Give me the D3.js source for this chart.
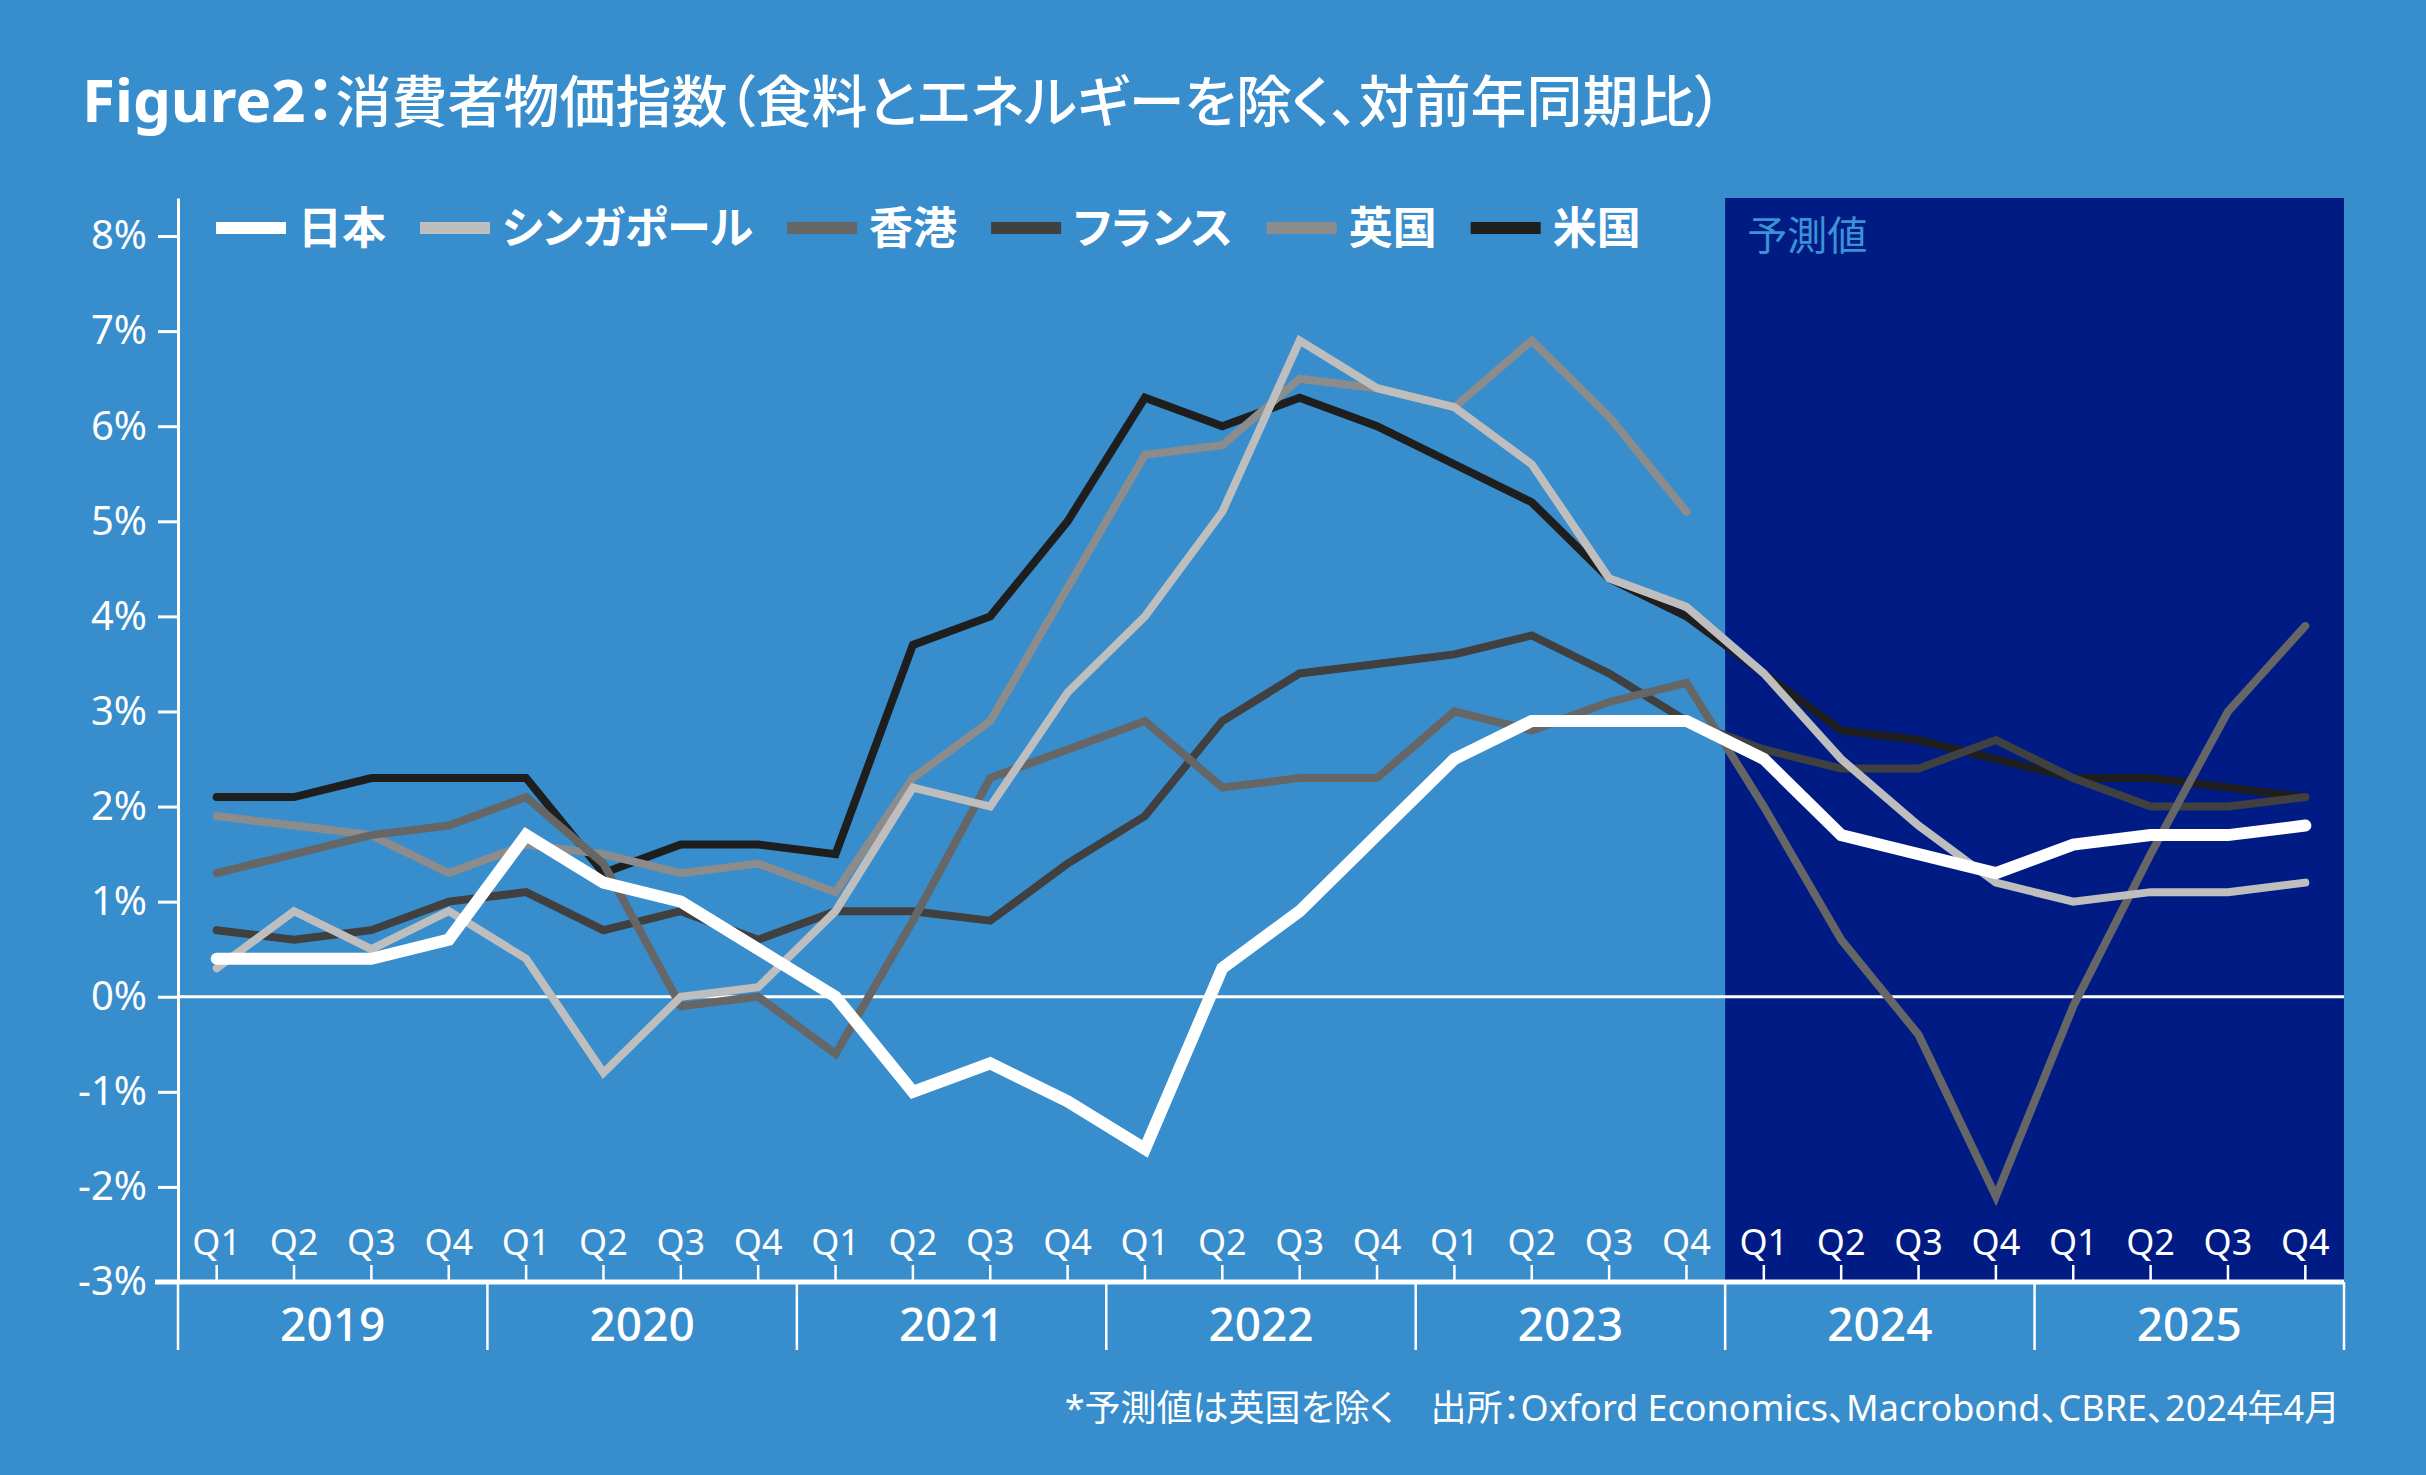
<!DOCTYPE html>
<html lang="ja">
<head>
<meta charset="utf-8">
<script src="https://cdn.jsdelivr.net/npm/d3@7"></script>
<style>
  body { margin: 0; background: #388dcd; }
  svg { display: block; font-family: "Noto Sans", "Noto Sans CJK JP", sans-serif; font-feature-settings: "palt"; }
  text { fill: #fff; }
</style>
</head>
<body>
<div id="chart"></div>
<script>
// Data
const years = ["2019", "2020", "2021", "2022", "2023", "2024", "2025"];
const quarterLabels = ["Q1", "Q2", "Q3", "Q4"];
const forecastStart = "2024";
const yTicks = [-3, -2, -1, 0, 1, 2, 3, 4, 5, 6, 7, 8];

const seriesNames = ["日本", "シンガポール", "香港", "フランス", "英国", "米国"];
const seriesColors = ["#ffffff", "#bebebe", "#666666", "#404040", "#8c8c8c", "#1e1e1e"];

const japan =     [0.4, 0.4, 0.4, 0.6,  1.7, 1.2, 1.0, 0.5,  0.0, -1.0, -0.7, -1.1,  -1.6, 0.3, 0.9, 1.7,  2.5, 2.9, 2.9, 2.9,  2.5, 1.7, 1.5, 1.3,  1.6, 1.7, 1.7, 1.8];
const singapore = [0.3, 0.9, 0.5, 0.9,  0.4, -0.8, 0.0, 0.1,  0.9, 2.2, 2.0, 3.2,  4.0, 5.1, 6.9, 6.4,  6.2, 5.6, 4.4, 4.1,  3.4, 2.5, 1.8, 1.2,  1.0, 1.1, 1.1, 1.2];
const hongkong =  [1.3, 1.5, 1.7, 1.8,  2.1, 1.4, -0.1, 0.0,  -0.6, 0.8, 2.3, 2.6,  2.9, 2.2, 2.3, 2.3,  3.0, 2.8, 3.1, 3.3,  2.0, 0.6, -0.4, -2.1,  -0.1, 1.5, 3.0, 3.9];
const france =    [0.7, 0.6, 0.7, 1.0,  1.1, 0.7, 0.9, 0.6,  0.9, 0.9, 0.8, 1.4,  1.9, 2.9, 3.4, 3.5,  3.6, 3.8, 3.4, 2.9,  2.6, 2.4, 2.4, 2.7,  2.3, 2.0, 2.0, 2.1];
const uk =        [1.9, 1.8, 1.7, 1.3,  1.6, 1.5, 1.3, 1.4,  1.1, 2.3, 2.9, 4.3,  5.7, 5.8, 6.5, 6.4,  6.2, 6.9, 6.1, 5.1];
const us =        [2.1, 2.1, 2.3, 2.3,  2.3, 1.3, 1.6, 1.6,  1.5, 3.7, 4.0, 5.0,  6.3, 6.0, 6.3, 6.0,  5.6, 5.2, 4.4, 4.0,  3.4, 2.8, 2.7, 2.5,  2.3, 2.3, 2.2, 2.1];

const titleLead = "Figure2：";
const titleText = "消費者物価指数（食料とエネルギーを除く、対前年同期比）";
const forecastLabel = "予測値";
const footnote = "*予測値は英国を除く　出所：Oxford Economics、Macrobond、CBRE、2024年4月";

class CpiChart {
    constructor(_config = {}) {
        this.config = {
            parentElement: _config.parentElement,
            containerWidth: 2426,
            containerHeight: 1475,
            margin: { top: 198, right: 82, bottom: 193, left: 178 },
            background: "#388dcd",
            forecastFill: "#001c84",
            forecastText: "#3c92d6"
        };
        this.periods = years.flatMap(yr => quarterLabels.map(q => yr + q));
        this.series = [japan, singapore, hongkong, france, uk, us].map((vals, i) => ({
            name: seriesNames[i],
            color: seriesColors[i],
            width: i === 0 ? 12 : 8,
            values: this.periods.map((p, j) => ({ period: p, value: vals[j] === undefined ? null : vals[j] }))
        }));
        this.initVis();
    }

    initVis() {
        let vis = this;
        let { parentElement, containerWidth, containerHeight, margin } = vis.config;
        let plotBottom = containerHeight - margin.bottom;
        let plotRight = containerWidth - margin.right;

        vis.svg = d3.select(parentElement)
            .append("svg")
            .attr("width", containerWidth)
            .attr("height", containerHeight);

        vis.svg.append("rect")
            .attr("width", containerWidth)
            .attr("height", containerHeight)
            .attr("fill", vis.config.background);

        // Scales

        vis.x = d3.scaleBand()
            .domain(vis.periods)
            .range([margin.left, plotRight]);

        vis.xYear = d3.scaleBand()
            .domain(years)
            .range([margin.left, plotRight]);

        vis.y = d3.scaleLinear()
            .domain([-3, 8.4])
            .range([plotBottom, margin.top]);

        // Forecast band

        let fx = vis.xYear(forecastStart);
        vis.svg.append("rect")
            .attr("x", fx)
            .attr("y", margin.top)
            .attr("width", plotRight - fx)
            .attr("height", plotBottom - margin.top)
            .attr("fill", vis.config.forecastFill);

        vis.svg.append("text")
            .attr("x", fx + 22)
            .attr("y", margin.top + 52)
            .attr("font-size", 40)
            .style("fill", vis.config.forecastText)
            .text(forecastLabel);

        // Title

        let title = vis.svg.append("text")
            .attr("x", 82)
            .attr("y", 122);
        title.append("tspan")
            .attr("font-size", 60)
            .attr("font-weight", 700)
            .text(titleLead);
        title.append("tspan")
            .attr("font-size", 56)
            .attr("font-weight", 500)
            .text(titleText);

        // Zero line

        vis.svg.append("line")
            .attr("x1", margin.left)
            .attr("x2", plotRight)
            .attr("y1", vis.y(0))
            .attr("y2", vis.y(0))
            .attr("stroke", "#fff")
            .attr("stroke-width", 3);

        // Axes

        vis.yAxis = vis.svg.append("g")
            .attr("class", "y-axis")
            .attr("transform", `translate(${margin.left},0)`);

        vis.qAxis = vis.svg.append("g")
            .attr("class", "q-axis")
            .attr("transform", `translate(0,${plotBottom})`);

        vis.yearAxis = vis.svg.append("g")
            .attr("class", "year-axis")
            .attr("transform", `translate(0,${plotBottom})`);

        vis.lineG = vis.svg.append("g").attr("class", "lines");
        vis.legendG = vis.svg.append("g")
            .attr("class", "legend")
            .attr("transform", `translate(216,228)`);

        vis.svg.append("text")
            .attr("x", plotRight - 4)
            .attr("y", 1421)
            .attr("text-anchor", "end")
            .attr("font-size", 36)
            .text(footnote);

        vis.renderVis();
    }

    renderVis() {
        let vis = this;
        let { margin } = vis.config;
        let bw = vis.x.bandwidth();

        vis.yAxis.call(d3.axisLeft(vis.y)
            .tickValues(yTicks)
            .tickFormat(d => d + "%")
            .tickSize(20)
            .tickSizeOuter(0)
            .tickPadding(11))
            .attr("font-family", null)
            .attr("font-size", 40);
        vis.yAxis.selectAll("path, line").attr("stroke", "#fff").attr("stroke-width", 3);
        vis.yAxis.selectAll("text").attr("fill", "#fff");

        vis.qAxis.call(d3.axisTop(vis.x)
            .tickFormat(d => d.slice(4))
            .tickSize(17)
            .tickSizeOuter(0)
            .tickPadding(10))
            .attr("font-family", null)
            .attr("font-size", 36);
        vis.qAxis.select(".domain")
            .attr("d", `M${margin.left - 23},0H${vis.x.range()[1]}`)
            .attr("stroke", "#fff")
            .attr("stroke-width", 5);
        vis.qAxis.selectAll(".tick line").attr("stroke", "#fff").attr("stroke-width", 2.5);
        vis.qAxis.selectAll("text").attr("fill", "#fff");

        vis.yearAxis.call(d3.axisBottom(vis.xYear).tickSize(0).tickPadding(26))
            .attr("font-family", null)
            .attr("font-size", 46)
            .attr("font-weight", 500);
        vis.yearAxis.select(".domain").remove();
        vis.yearAxis.selectAll("text").attr("fill", "#fff");

        let bounds = years.map(yr => vis.xYear(yr)).concat([vis.xYear.range()[1]]);
        vis.yearAxis.selectAll("line.divider")
            .data(bounds)
            .join("line")
            .attr("class", "divider")
            .attr("x1", d => d)
            .attr("x2", d => d)
            .attr("y1", 0)
            .attr("y2", 68)
            .attr("stroke", "#fff")
            .attr("stroke-width", 2.5);

        // Lines: draw last legend entry first so 日本 sits on top

        let line = d3.line()
            .defined(d => d.value !== null)
            .x(d => vis.x(d.period) + bw / 2)
            .y(d => vis.y(d.value));

        vis.lineG.selectAll("path")
            .data(vis.series.slice().reverse())
            .join("path")
            .attr("d", d => line(d.values))
            .attr("fill", "none")
            .attr("stroke", d => d.color)
            .attr("stroke-width", d => d.width)
            .attr("stroke-linecap", "round")
            .attr("stroke-linejoin", "miter");

        // Legend

        let cursor = 0;
        vis.series.forEach(s => {
            let item = vis.legendG.append("g").attr("transform", `translate(${cursor},0)`);
            item.append("rect")
                .attr("x", 0)
                .attr("y", -6)
                .attr("width", 70)
                .attr("height", 12)
                .attr("fill", s.color);
            let t = item.append("text")
                .attr("x", 82)
                .attr("dy", "0.36em")
                .attr("font-size", 44)
                .attr("font-weight", 700)
                .text(s.name);
            cursor += 82 + t.node().getComputedTextLength() + 34;
        });
    }
}

new CpiChart({ parentElement: "#chart" });
</script>
</body>
</html>
